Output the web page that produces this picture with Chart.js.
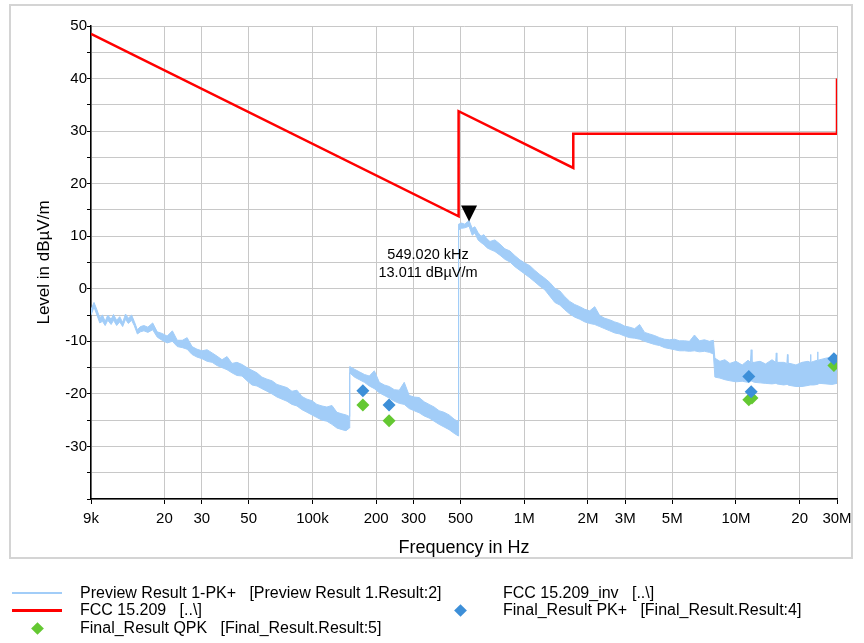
<!DOCTYPE html>
<html>
<head>
<meta charset="utf-8">
<script src="https://cdn.jsdelivr.net/npm/chart.js@4.4.0/dist/chart.umd.min.js"></script>
<style>
html, body { margin: 0; padding: 0; background: #fff; }
#wrap { position: relative; width: 864px; height: 643px; }
#legend { position: absolute; left: 0; top: 0; width: 864px; height: 643px; pointer-events: none;
  font-family: "Liberation Sans", Arial, sans-serif; font-size: 16px; color: #000; }
.txt { position: absolute; white-space: pre; line-height: 18px; height: 18px; }
.line { position: absolute; width: 50px; }
.dia { position: absolute; width: 9px; height: 9px; transform: rotate(45deg); }
</style>
</head>
<body>
<div id="wrap">
  <canvas id="graph" width="864" height="643"></canvas>
  <div id="legend"></div>
</div>
<script>
// x axis ticks
const xTickValues = [9e3, 20e3, 30e3, 50e3, 100e3, 200e3, 300e3, 500e3, 1e6, 2e6, 3e6, 5e6, 10e6, 20e6, 30e6];
const xTickLabels = ['9k', '20', '30', '50', '100k', '200', '300', '500', '1M', '2M', '3M', '5M', '10M', '20', '30M'];

// FCC 15.209 limit line (Hz, dBuV/m)
const limitFreq = [9e3, 490e3, 490e3, 1.705e6, 1.705e6, 30e6, 30e6];
const limitLevel = [48.5, 13.8, 33.8, 23.0, 29.5, 29.5, 40.0];

const previewFreqKHz = [
  9, 9.3, 9.6, 9.9, 10.2, 10.5, 10.8, 11.2, 11.5, 11.9, 12.3, 12.7, 13.1, 13.5, 14.0, 14.4, 14.9, 15.4, 16.0, 16.7,
  17.6, 18.5, 19.5, 20.6, 21.8, 23.0, 24.3, 25.6, 27.0, 28.5, 30.1, 31.8, 33.6, 35.4, 37.4, 39.5, 41.7, 44.0, 46.5, 49.1,
  51.8, 54.7, 57.7, 61.0, 64.4, 68.0, 71.8, 75.8, 80.0, 84.5, 89.2, 94.2, 99.5, 105, 111, 117, 123.6, 130.5, 137.8, 144, 149.5,
  150, 157.8, 166.6, 175.9, 185.6, 196, 207, 218.4, 230.6, 243.4, 257, 271.3, 286.4, 302.3, 319.2, 337, 355.7, 375.5, 396.4,
  418.5, 441.8, 466.4, 488,
  490, 506, 524, 541, 549.02, 568, 585, 605, 625, 645, 667, 689, 727, 768, 811, 856, 904, 954, 1007, 1063,
  1123, 1185, 1251, 1321, 1395, 1473, 1555, 1641, 1733, 1830, 1931, 2039, 2153, 2273, 2400, 2533, 2674, 2823, 2981, 3147,
  3322, 3507, 3703, 3909, 4127, 4357, 4600, 4856, 5127, 5412, 5714, 6032, 6368, 6723, 7098, 7493, 7823,
  7950, 8400, 8860, 9360, 10000, 10700, 11400, 11700, 11800, 11900, 12200, 13000, 13800, 14800, 15400, 15500, 15600, 16800,
  17400, 17500, 17600, 18000, 19200, 20500, 21900, 22400, 22500, 22600, 23300, 24200, 24300, 24400, 24900, 26600, 28400, 30000
];
const previewMax = [
  -4.0, -2.6, -4.0, -5.5, -5.0, -6.2, -5.0, -5.8, -4.9, -6.0, -5.3, -6.4, -4.8, -5.6, -5.0, -6.2, -7.8, -7.2, -7.0, -7.3,
  -6.5, -8.2, -8.5, -9.0, -8.0, -9.8, -9.8, -9.3, -11.0, -11.5, -11.8, -11.6, -12.2, -12.8, -13.5, -12.9, -14.2, -14.0, -14.4, -15.0,
  -15.5, -16.0, -16.8, -17.2, -17.5, -18.2, -18.5, -18.8, -19.5, -19.3, -20.5, -21.0, -21.3, -22.0, -22.3, -22.5, -22.2, -23.5, -23.8, -24.0, -24.3,
  -14.8, -15.3, -15.8, -16.3, -16.6, -15.6, -17.8, -18.3, -18.6, -19.2, -19.3, -17.8, -20.3, -20.6, -20.7, -21.5, -22.0, -22.5, -23.2,
  -23.5, -24.0, -24.8, -25.3,
  12.3, 12.5, 12.3, 12.8, 13.0, 11.5, 11.8, 10.7, 10.0, 10.3, 9.5, 9.0, 9.3, 8.5, 7.6, 7.2, 6.3, 5.5, 4.9, 4.4,
  3.5, 2.7, 2.0, 1.2, 0.1, -0.4, -1.5, -2.4, -3.0, -3.4, -3.9, -4.2, -3.4, -5.1, -5.6, -5.9, -6.3, -6.6, -7.1, -7.3,
  -7.6, -6.8, -8.3, -8.6, -8.9, -9.3, -9.6, -9.7, -9.6, -9.9, -9.9, -10.0, -8.8, -9.9, -9.7, -10.0, -9.8,
  -13.2, -13.8, -13.5, -14.2, -13.8, -14.5, -13.6, -14.0, -11.6, -14.0, -14.0, -13.8, -14.3, -13.5, -14.0, -12.2, -14.0, -14.0,
  -14.2, -12.5, -14.2, -14.2, -14.5, -14.0, -13.8, -14.0, -12.5, -14.0, -13.8, -13.6, -12.0, -13.6, -13.5, -13.2, -13.0, -12.8
];
const previewMin = [
  -5.0, -3.5, -5.0, -6.5, -6.2, -7.0, -6.0, -6.8, -6.0, -7.0, -6.3, -7.2, -5.8, -6.6, -6.0, -7.0, -8.6, -8.2, -8.0, -8.3,
  -7.8, -9.2, -9.8, -10.3, -10.0, -11.0, -11.2, -11.5, -12.5, -13.0, -13.3, -13.8, -14.0, -14.6, -15.0, -15.4, -16.0, -16.5, -16.6, -17.5,
  -18.3, -18.5, -19.0, -19.5, -20.0, -20.6, -21.0, -21.4, -22.0, -22.3, -23.0, -23.5, -24.0, -24.5, -25.0, -25.2, -25.8, -26.5, -26.8, -27.0, -26.5,
  -16.0, -16.8, -17.3, -17.8, -18.5, -19.0, -19.8, -20.3, -20.8, -21.4, -21.8, -22.0, -22.8, -23.2, -23.6, -24.2, -24.6, -25.2, -25.8,
  -26.3, -26.8, -27.5, -28.0,
  11.2, 11.5, 11.6, 11.8, 11.9, 10.2, 10.6, 9.3, 8.8, 8.4, 7.8, 7.5, 7.1, 6.4, 5.6, 5.1, 4.2, 3.5, 2.8, 2.1,
  1.3, 0.5, -0.2, -1.4, -2.6, -3.1, -4.0, -4.8, -5.4, -5.8, -6.3, -6.6, -6.8, -7.2, -7.6, -8.0, -8.4, -8.6, -9.0, -9.3,
  -9.4, -9.6, -10.0, -10.3, -10.6, -10.8, -11.2, -11.4, -11.6, -11.8, -11.8, -11.9, -11.8, -12.0, -11.9, -12.1, -12.4,
  -16.8, -17.0, -17.3, -17.5, -17.7, -17.6, -17.8, -17.6, -17.5, -17.6, -17.8, -17.9, -18.0, -18.1, -18.0, -18.0, -18.1, -18.3,
  -18.2, -18.2, -18.3, -18.4, -18.6, -18.6, -18.4, -18.3, -18.3, -18.3, -18.3, -18.2, -18.2, -18.1, -18.0, -18.1, -18.2, -18.0
];

// final measurements (Hz, dBuV/m)
const pkFreq = [173e3, 230e3, 11.5e6, 11.8e6, 29e6];
const pkLevel = [-19.4, -22.1, -16.7, -19.6, -13.3];
const qpkFreq = [173e3, 230e3, 11.5e6, 11.9e6, 29e6];
const qpkLevel = [-22.1, -25.1, -21.1, -20.8, -14.6];

// peak marker
const markerFreq = 549020;
const markerLevel = 13.011;

const font = '"Liberation Sans", Arial, sans-serif';
Chart.defaults.font.family = font;
Chart.defaults.color = '#000';

const pts = (xs, ys, k) => xs.map((v, i) => ({x: v * (k || 1), y: ys[i]}));

const framePlugin = {
  id: 'frame',
  beforeDraw(chart) {
    const ctx = chart.ctx;
    ctx.save();
    ctx.strokeStyle = '#d4d4d4';
    ctx.lineWidth = 2;
    ctx.strokeRect(10, 5, 842, 553);
    ctx.restore();
  }
};

const markerPlugin = {
  id: 'marker',
  afterDatasetsDraw(chart) {
    const ctx = chart.ctx;
    const px = chart.scales.x.getPixelForValue(markerFreq);
    const py = chart.scales.y.getPixelForValue(markerLevel);
    ctx.save();
    ctx.fillStyle = '#000';
    ctx.beginPath();
    ctx.moveTo(px - 8, py - 15);
    ctx.lineTo(px + 8, py - 15);
    ctx.lineTo(px, py + 1);
    ctx.closePath();
    ctx.fill();
    ctx.font = '14.5px ' + font;
    ctx.textAlign = 'center';
    ctx.textBaseline = 'middle';
    ctx.fillText((markerFreq / 1000).toFixed(3) + ' kHz', px - 41, py + 35);
    ctx.fillText(markerLevel.toFixed(3) + ' dB\u00b5V/m', px - 41, py + 53);
    ctx.restore();
  }
};

const traceColor = '#a2cdf8';

const chart = new Chart(document.getElementById('graph'), {
  type: 'line',
  data: {
    datasets: [
      {label: 'Final_Result PK+   [Final_Result.Result:4]', data: pts(pkFreq, pkLevel), showLine: false,
        pointStyle: 'rectRot', pointRadius: 6.5, pointBackgroundColor: '#3d8fd8', pointBorderWidth: 0, order: 0},
      {label: 'Final_Result QPK   [Final_Result.Result:5]', data: pts(qpkFreq, qpkLevel), showLine: false,
        pointStyle: 'rectRot', pointRadius: 6.5, pointBackgroundColor: '#64c832', pointBorderWidth: 0, order: 1},
      {label: 'FCC 15.209   [..\\]', data: pts(limitFreq, limitLevel), borderColor: '#f00', borderWidth: 2.5,
        pointRadius: 0, fill: false, order: 2},
      {label: 'Preview Result 1-PK+   [Preview Result 1.Result:2]', data: pts(previewFreqKHz, previewMax, 1000),
        borderColor: traceColor, borderWidth: 1, pointRadius: 0, fill: false, order: 3},
      {label: '', data: pts(previewFreqKHz, previewMin, 1000), borderColor: traceColor, backgroundColor: traceColor,
        borderWidth: 1, pointRadius: 0, fill: '-1', order: 4},
      {label: 'FCC 15.209_inv   [..\\]', data: [], borderColor: 'rgba(0,0,0,0)', pointRadius: 0, order: 5}
    ]
  },
  options: {
    responsive: false,
    animation: false,
    layout: {padding: {left: 0, top: 26, right: 27, bottom: 82}},
    plugins: {legend: {display: false}, tooltip: {enabled: false}},
    scales: {
      x: {
        type: 'logarithmic', min: 9e3, max: 30e6,
        afterBuildTicks: s => { s.ticks = xTickValues.map(v => ({value: v})); },
        afterFit: s => { s.height = 62; },
        ticks: {autoSkip: false, maxRotation: 0, minRotation: 0, padding: 6, font: {size: 15},
          callback: (v, i) => xTickLabels[i]},
        grid: {color: '#c8c8c8', tickColor: '#000', tickLength: 5},
        border: {color: '#000', width: 1.5},
        title: {display: true, text: 'Frequency in Hz', font: {size: 18}, padding: {top: 0, bottom: 2}}
      },
      y: {
        min: -40, max: 50,
        afterFit: s => { s.width = 91; },
        ticks: {stepSize: 5, autoSkip: false, padding: 0, font: {size: 15},
          callback: v => (v % 10 === 0 && v > -40) ? String(v) : ''},
        grid: {color: '#c8c8c8', tickColor: '#000', tickLength: 4},
        border: {color: '#000', width: 1.5},
        title: {display: true, text: 'Level in dB\u00b5V/m', font: {size: 17}, padding: {top: 34, bottom: 0}}
      }
    }
  },
  plugins: [framePlugin, markerPlugin]
});

// legend: two columns below the plot
const legendOrder = [3, 2, 1, 5, 0];
const legendSlots = [[0, 0], [0, 1], [0, 2], [1, 0], [1, 1]];
const colX = [12, 435];
const rowY = [593, 610, 628];
const legendBox = document.getElementById('legend');
legendOrder.forEach((di, k) => {
  const ds = chart.data.datasets[di];
  const [c, r] = legendSlots[k];
  const x0 = colX[c], yc = rowY[r];
  if (ds.pointStyle === 'rectRot') {
    const d = document.createElement('div');
    d.className = 'dia';
    d.style.background = ds.pointBackgroundColor;
    d.style.left = (x0 + 20.5) + 'px';
    d.style.top = (yc - 4.5) + 'px';
    legendBox.appendChild(d);
  } else if (ds.data.length) {
    const l = document.createElement('div');
    l.className = 'line';
    l.style.left = x0 + 'px';
    l.style.height = (ds.borderWidth > 2 ? 3 : 2) + 'px';
    l.style.top = (yc - 1) + 'px';
    l.style.background = ds.borderColor;
    legendBox.appendChild(l);
  }
  const t = document.createElement('div');
  t.className = 'txt';
  t.textContent = ds.label;
  t.style.left = (x0 + 68) + 'px';
  t.style.top = (yc - 9) + 'px';
  legendBox.appendChild(t);
});
</script>
</body>
</html>
